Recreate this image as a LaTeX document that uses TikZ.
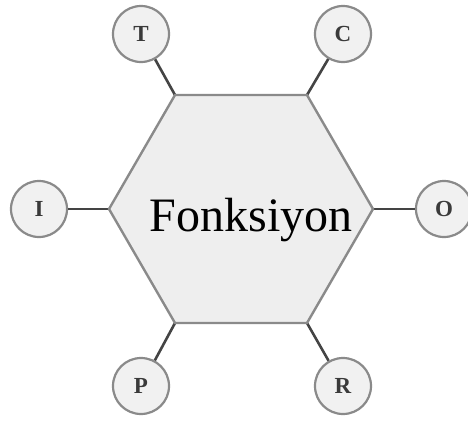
\documentclass[tikz,border=0pt]{standalone}
\usepackage{fontspec}
\setmainfont{Liberation Serif}
\begin{document}
\begin{tikzpicture}[x=1pt,y=-1pt,
  hexfill/.style={fill=hexgray, draw=bordergray, line width=2.4pt, line join=miter},
  letterball/.style={circle, minimum size=56pt, inner sep=0pt, fill=ballgray, draw=bordergray, line width=2.2pt, text=lettergray, font=\fontsize{23}{25}\selectfont\bfseries},
  link/.style={draw=linkgray, line width=2.6pt}]
\definecolor{hexgray}{HTML}{EEEEEE}
\definecolor{ballgray}{HTML}{F1F1F1}
\definecolor{bordergray}{HTML}{8A8A8A}
\definecolor{linkgray}{HTML}{444444}
\definecolor{lettergray}{HTML}{3A3A3A}
\useasboundingbox (0,0) rectangle (468,421);
% hexagon vertices
\coordinate (vR)  at (373,209);
\coordinate (vTR) at (307,95);
\coordinate (vTL) at (175,95);
\coordinate (vL)  at (109,209);
\coordinate (vBL) at (175,323);
\coordinate (vBR) at (307,323);
% letter balls
\node[letterball] (O) at (444,209) {O};
\node[letterball] (C) at (343,34) {C};
\node[letterball] (T) at (141,34) {T};
\node[letterball] (I) at (39,209) {I};
\node[letterball] (P) at (141,386) {P};
\node[letterball] (R) at (343,386) {R};
% connectors
\draw[link] (O) -- (vR);
\draw[link] (C) -- (vTR);
\draw[link] (T) -- (vTL);
\draw[link] (I) -- (vL);
\draw[link] (P) -- (vBL);
\draw[link] (R) -- (vBR);
% hexagon
\draw[hexfill] (vR) -- (vTR) -- (vTL) -- (vL) -- (vBL) -- (vBR) -- cycle;
\node[font=\fontsize{48}{52}\selectfont, anchor=base, inner sep=0pt] (label) at (251,231) {Fonksiyon};
\end{tikzpicture}
\end{document}
